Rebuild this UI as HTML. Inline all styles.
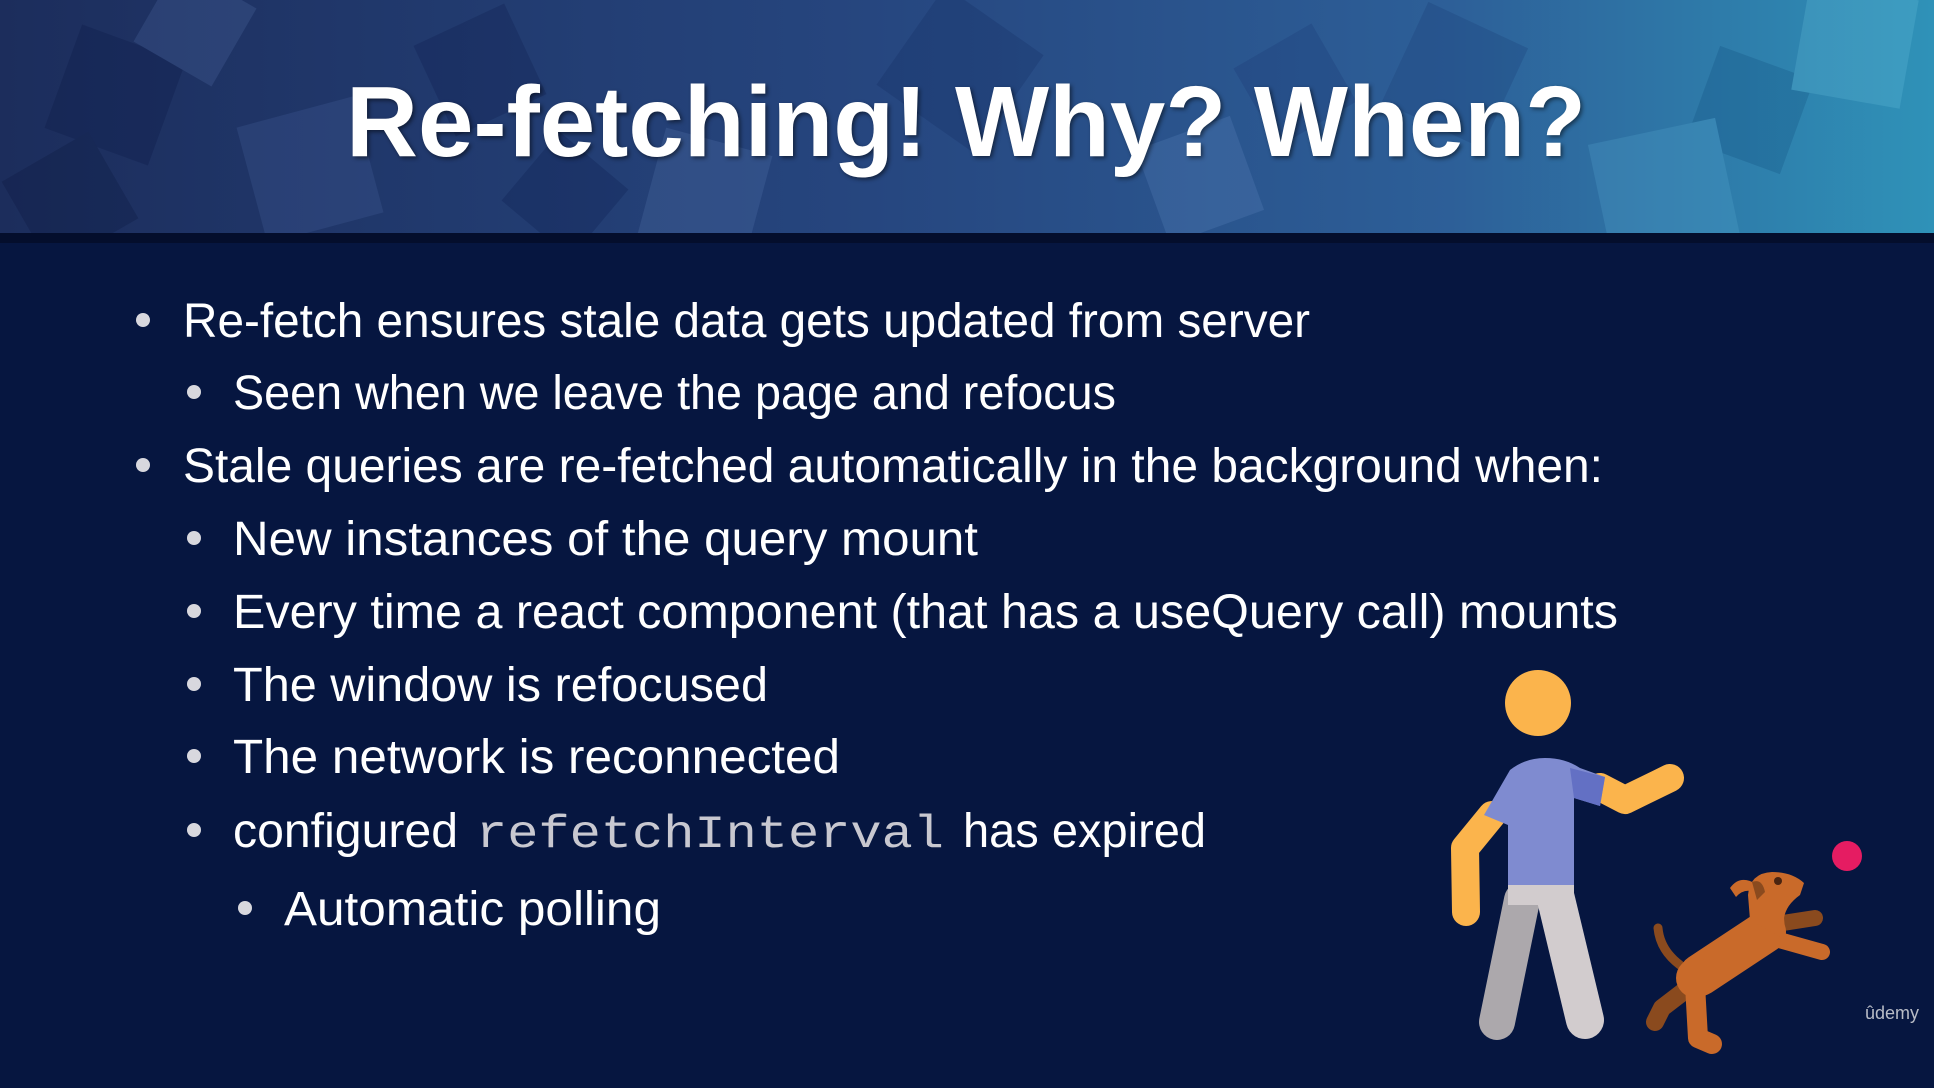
<!DOCTYPE html>
<html><head><meta charset="utf-8"><style>
html,body{margin:0;padding:0;background:#061640;}
svg{display:block}
</style></head><body>
<svg width="1934" height="1088" viewBox="0 0 1934 1088" xmlns="http://www.w3.org/2000/svg">
<defs>
<linearGradient id="hg" x1="0" y1="0" x2="1" y2="0">
<stop offset="0" stop-color="#1c2d5c"/>
<stop offset="0.45" stop-color="#26467f"/>
<stop offset="0.75" stop-color="#2d5f98"/>
<stop offset="1" stop-color="#2f92b8"/>
</linearGradient>
<clipPath id="hc"><rect width="1934" height="233"/></clipPath>
<filter id="sh"><feGaussianBlur stdDeviation="2"/></filter>
</defs>
<rect width="1934" height="1088" fill="#061640"/>
<rect width="1934" height="234" fill="url(#hg)"/>
<g opacity="0.25" clip-path="url(#hc)">
<rect x="60" y="40" width="110" height="110" fill="#0a1540" transform="rotate(20 115 95)"/>
<rect x="250" y="110" width="120" height="120" fill="#4a66a0" transform="rotate(-15 310 170)"/>
<rect x="150" y="-20" width="90" height="90" fill="#5570a8" transform="rotate(30 195 25)"/>
<rect x="430" y="20" width="100" height="100" fill="#0d1a48" transform="rotate(-25 480 70)"/>
<rect x="650" y="140" width="110" height="110" fill="#5a78b0" transform="rotate(15 705 195)"/>
<rect x="900" y="10" width="120" height="120" fill="#13285e" transform="rotate(35 960 70)"/>
<rect x="1150" y="130" width="100" height="100" fill="#6088c0" transform="rotate(-20 1200 180)"/>
<rect x="1400" y="20" width="110" height="110" fill="#1a3a70" transform="rotate(25 1455 75)"/>
<rect x="1700" y="60" width="100" height="100" fill="#0e4a78" transform="rotate(20 1750 110)"/>
<rect x="1600" y="130" width="130" height="130" fill="#5aa8d0" transform="rotate(-12 1665 195)"/>
<rect x="1800" y="-10" width="110" height="110" fill="#68c0dc" transform="rotate(10 1855 45)"/>
<rect x="20" y="150" width="100" height="100" fill="#0a1438" transform="rotate(-30 70 200)"/>
<rect x="1250" y="40" width="90" height="90" fill="#1a3470" transform="rotate(-30 1295 85)"/>
<rect x="520" y="150" width="90" height="90" fill="#0a1a48" transform="rotate(40 565 195)"/>
</g>
<rect y="233" width="1934" height="10" fill="#040e2c"/>
<text x="348" y="158" font-family="Liberation Sans, sans-serif" font-size="100" font-weight="bold" fill="#000" opacity="0.5" filter="url(#sh)" textLength="1240" lengthAdjust="spacingAndGlyphs">Re-fetching! Why? When?</text>
<text x="346" y="156" font-family="Liberation Sans, sans-serif" font-size="100" font-weight="bold" fill="#fff" textLength="1240" lengthAdjust="spacingAndGlyphs">Re-fetching! Why? When?</text>

<g font-family="Liberation Sans, sans-serif" font-size="48" fill="#fff">
<g fill="#d8d8de">
<circle cx="143" cy="320" r="7"/>
<circle cx="194" cy="392" r="7"/>
<circle cx="143" cy="465" r="7"/>
<circle cx="194" cy="538" r="7"/>
<circle cx="194" cy="611" r="7"/>
<circle cx="194" cy="684" r="7"/>
<circle cx="194" cy="756" r="7"/>
<circle cx="194" cy="830" r="7"/>
<circle cx="245" cy="908" r="7"/>
</g>
<text x="183" y="337" textLength="1127" lengthAdjust="spacingAndGlyphs">Re-fetch ensures stale data gets updated from server</text>
<text x="233" y="409" textLength="883" lengthAdjust="spacingAndGlyphs">Seen when we leave the page and refocus</text>
<text x="183" y="482" textLength="1420" lengthAdjust="spacingAndGlyphs">Stale queries are re-fetched automatically in the background when:</text>
<text x="233" y="555" textLength="745" lengthAdjust="spacingAndGlyphs">New instances of the query mount</text>
<text x="233" y="628" textLength="1385" lengthAdjust="spacingAndGlyphs">Every time a react component (that has a useQuery call) mounts</text>
<text x="233" y="701" textLength="535" lengthAdjust="spacingAndGlyphs">The window is refocused</text>
<text x="233" y="773" textLength="607" lengthAdjust="spacingAndGlyphs">The network is reconnected</text>
<text x="233" y="847" textLength="225" lengthAdjust="spacingAndGlyphs">configured</text>
<text x="476" y="847" font-family="Liberation Mono, monospace" font-size="46" fill="#c8c8d0" textLength="468" lengthAdjust="spacingAndGlyphs">refetchInterval</text>
<text x="963" y="847" textLength="243" lengthAdjust="spacingAndGlyphs">has expired</text>
<text x="284" y="925" textLength="377" lengthAdjust="spacingAndGlyphs">Automatic polling</text>
</g>

<!-- person -->
<g stroke-linecap="round" fill="none">
<line x1="1522" y1="900" x2="1497" y2="1022" stroke="#aca8ac" stroke-width="36"/>
<line x1="1555" y1="895" x2="1585" y2="1020" stroke="#d2ccce" stroke-width="38"/>
<path d="M1492 815 L1465 848 L1466 912" stroke="#fbb44c" stroke-width="28" stroke-linejoin="round"/>
<path d="M1600 787 L1625 800 L1670 778" stroke="#fbb44c" stroke-width="28" stroke-linejoin="round"/>
</g>
<path d="M1508 892 L1508 825 L1484 815 L1510 770 Q1525 758 1545 758 Q1565 758 1580 768 L1605 777 L1600 806 L1574 798 L1574 892 Z" fill="#7f8bd0"/>
<path d="M1570 768 L1605 777 L1600 806 L1574 798 Z" fill="#6370c4"/>
<rect x="1508" y="885" width="66" height="20" fill="#d2ccce"/>
<circle cx="1538" cy="703" r="33" fill="#fbb44c"/>
<!-- ball -->
<circle cx="1847" cy="856" r="15" fill="#e51c62"/>
<!-- dog -->
<g stroke-linecap="round" stroke-linejoin="round" fill="none">
<path d="M1680 965 Q1660 950 1658 928" stroke="#8a4a1e" stroke-width="9"/>
<path d="M1692 985 L1662 1008 L1655 1022" stroke="#8a4a1e" stroke-width="18"/>
<path d="M1770 925 L1815 918" stroke="#8a4a1e" stroke-width="16"/>
<path d="M1695 985 L1698 1038 L1712 1044" stroke="#c96a2a" stroke-width="20"/>
<path d="M1772 938 L1822 952" stroke="#c96a2a" stroke-width="16"/>
<path d="M1700 975 L1765 932" stroke="#c96a2a" stroke-width="42"/>
</g>
<ellipse cx="1696" cy="978" rx="20" ry="20" fill="#c96a2a"/>
<path d="M1750 920 L1748 895 Q1750 873 1772 872 Q1792 872 1804 883 L1800 895 Q1786 905 1784 918 L1786 940 Z" fill="#c96a2a"/>
<path d="M1756 884 Q1740 874 1730 888 L1736 897 Q1744 888 1754 892 Z" fill="#c96a2a"/>
<path d="M1752 882 Q1762 878 1765 892 L1757 900 Z" fill="#8a4a1e"/>
<circle cx="1778" cy="881" r="4" fill="#4a2410"/>
<text x="1892" y="1019" font-family="Liberation Sans, sans-serif" font-size="18" fill="#b8bcc6" text-anchor="middle">ûdemy</text>
</svg>
</body></html>
